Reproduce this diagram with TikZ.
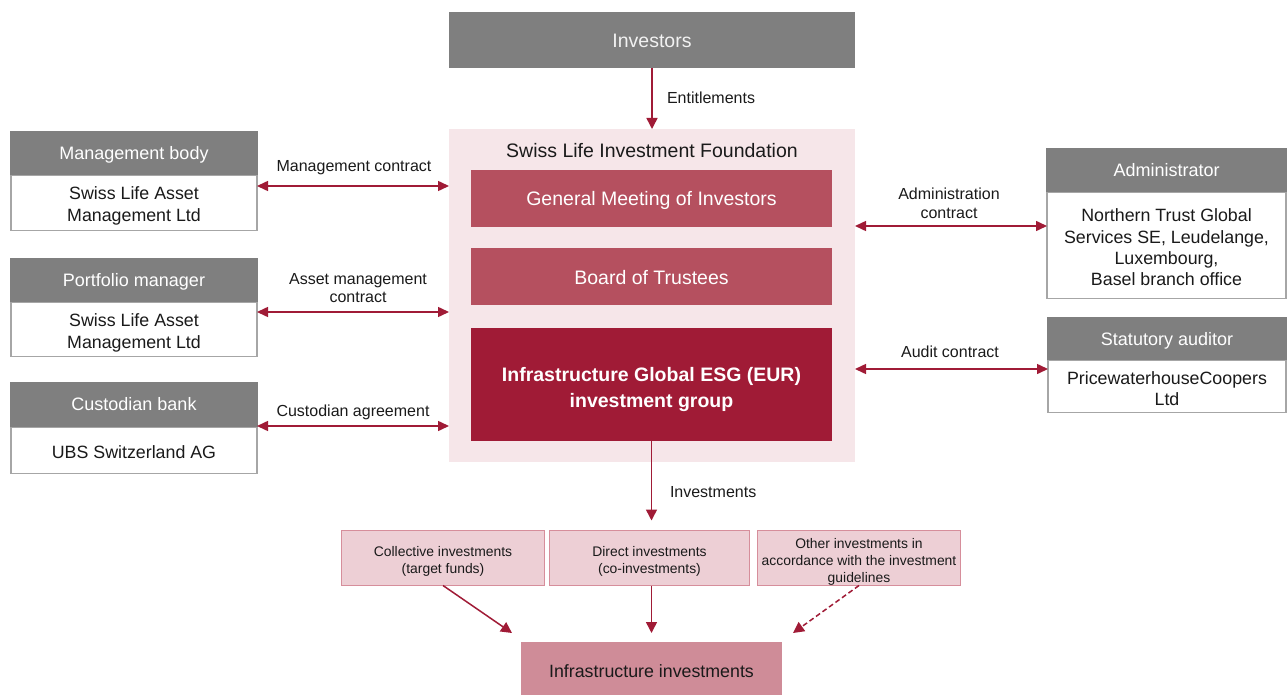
\documentclass[tikz,border=0pt]{standalone}
\usepackage{fontspec}
\setmainfont{Liberation Sans}
\usetikzlibrary{arrows.meta}
\definecolor{hdgray}{HTML}{7F7F7F}
\definecolor{bdgray}{HTML}{A6A6A6}
\definecolor{fpink}{HTML}{F6E6E9}
\definecolor{midred}{HTML}{B5505F}
\definecolor{darkred}{HTML}{A01B36}
\definecolor{bandfill}{HTML}{EDCFD5}
\definecolor{bandline}{HTML}{D68E9B}
\definecolor{infrafill}{HTML}{CF8C98}
\definecolor{txt}{HTML}{1A1A1A}
\tikzset{
  box/.style={inner sep=0pt, outer sep=0pt},
  tx/.style={inner sep=0pt, outer sep=0pt, align=center},
  hdr/.style={box, fill=hdgray},
  hdrt/.style={tx, text=white, font={\fontsize{18}{21}\selectfont}},
  bodybox/.style={box, fill=white, draw=bdgray, line width=1.5pt},
  bodyt/.style={tx, text=txt, font={\fontsize{17.8}{21.8}\selectfont}},
  redbox/.style={box, fill=midred},
  redt/.style={tx, text=white, font={\fontsize{19.5}{23}\selectfont}},
  bandbox/.style={box, fill=bandfill, draw=bandline, line width=1.3pt},
  bandt/.style={tx, text=txt, font={\fontsize{13.9}{17.3}\selectfont}},
  lbl/.style={tx, text=txt, font={\fontsize{16}{18.5}\selectfont}},
  arr/.style={draw=darkred, line width=1.5pt, -{Triangle[length=11pt,width=11pt]}},
  dbl/.style={draw=darkred, line width=1.5pt, {Triangle[length=11pt,width=10pt]}-{Triangle[length=11pt,width=10pt]}},
}
\begin{document}
\begin{tikzpicture}[x=1pt,y=-1pt]
\useasboundingbox (0,0) rectangle (1287,695);
% top
\node[hdr, minimum width=406pt, minimum height=56pt] (inv) at (652,40) {};
\node[tx, text=white!95!black, font={\fontsize{19.5}{23}\selectfont}] (invt) at ([yshift=-1pt]inv.center) {Investors};
\node[box, fill=fpink, minimum width=406pt, minimum height=333pt] (found) at (652,295.5) {};
\node[lbl, font={\fontsize{19.5}{23}\selectfont}] (ftitle) at (652,151) {Swiss Life Investment Foundation};
\node[redbox, minimum width=361pt, minimum height=57pt] (gm) at (651.5,198.5) {};
\node[redt] (gmt) at ([yshift=-2pt]gm.center) {General Meeting of Investors};
\node[redbox, minimum width=361pt, minimum height=57pt] (bot) at (651.5,276.5) {};
\node[redt] (bott) at ([yshift=-1pt]bot.center) {Board of Trustees};
\node[redbox, fill=darkred, minimum width=361pt, minimum height=113pt] (ig) at (651.5,384.5) {};
\node[redt, font={\fontsize{19.5}{26}\selectfont\bfseries}] (igt) at ([yshift=-4.5pt]ig.center) {Infrastructure Global ESG (EUR)\\investment group};
\draw[arr] (inv.south) -- (found.north);
\node[lbl, anchor=west] (entl) at (667,98) {Entitlements};
% left
\node[hdr, minimum width=248pt, minimum height=44pt] (mbh) at (134,153) {};
\node[hdrt] (mbht) at ([yshift=-2pt]mbh.center) {Management body};
\node[bodybox, minimum width=246pt, minimum height=55pt] (mbb) at (134,203) {};
\node[bodyt] (mbbt) at ([yshift=-3pt]mbb.center) {Swiss Life Asset\\Management Ltd};
\node[hdr, minimum width=248pt, minimum height=44pt] (pmh) at (134,280) {};
\node[hdrt] (pmht) at ([yshift=-2pt]pmh.center) {Portfolio manager};
\node[bodybox, minimum width=246pt, minimum height=54pt] (pmb) at (134,329.5) {};
\node[bodyt] (pmbt) at ([yshift=-3pt]pmb.center) {Swiss Life Asset\\Management Ltd};
\node[hdr, minimum width=248pt, minimum height=45pt] (cbh) at (134,404.5) {};
\node[hdrt] (cbht) at (cbh.center) {Custodian bank};
\node[bodybox, minimum width=246pt, minimum height=46pt] (cbb) at (134,450.5) {};
\node[bodyt] (cbbt) at ([yshift=-2pt]cbb.center) {UBS Switzerland AG};
\coordinate (l1) at ([yshift=17pt]mbb.east);
\coordinate (l2) at ([yshift=17.5pt]pmb.east);
\coordinate (l3) at ([yshift=24.5pt]cbb.east);
\draw[dbl] (l1) -- (l1 -| found.west);
\draw[dbl] (l2) -- (l2 -| found.west);
\draw[dbl] (l3) -- (l3 -| found.west);
\node[lbl] (lab1) at (354,167.5) {Management contract};
\node[lbl] (lab2) at (358,288) {Asset management\\contract};
\node[lbl] (lab3) at (353,412) {Custodian agreement};
% right
\node[hdr, minimum width=241pt, minimum height=44pt] (adh) at (1166.5,170) {};
\node[hdrt] (adht) at (adh.center) {Administrator};
\node[bodybox, minimum width=239pt, minimum height=106pt] (adb) at (1166.5,245.5) {};
\node[bodyt, font={\fontsize{17.8}{21.4}\selectfont}] (adbt) at ([yshift=-2pt]adb.center) {Northern Trust Global\\Services SE, Leudelange,\\Luxembourg,\\Basel branch office};
\node[hdr, minimum width=240pt, minimum height=43pt] (sah) at (1167,338.5) {};
\node[hdrt] (saht) at ([yshift=-2pt]sah.center) {Statutory auditor};
\node[bodybox, minimum width=238pt, minimum height=52pt] (sab) at (1167,386.5) {};
\node[bodyt, font={\fontsize{17.8}{21.2}\selectfont}] (sabt) at ([yshift=-2pt]sab.center) {PricewaterhouseCoopers\\Ltd};
\coordinate (r1) at ([yshift=19.5pt]adb.west);
\coordinate (r2) at ([yshift=17.5pt]sab.west);
\draw[dbl] (r1 -| found.east) -- (r1);
\draw[dbl] (r2 -| found.east) -- (r2);
\node[lbl] (lab4) at (949,203.5) {Administration\\contract};
\node[lbl] (lab5) at (950,352) {Audit contract};
% bottom
\node[bandbox, minimum width=203pt, minimum height=55pt] (coll) at (443,558) {};
\node[bandt] (collt) at ([yshift=-3.5pt]coll.center) {Collective investments\\(target funds)};
\node[bandbox, minimum width=200pt, minimum height=55pt] (dir) at (649.5,558) {};
\node[bandt] (dirt) at ([yshift=-3.5pt]dir.center) {Direct investments\\(co-investments)};
\node[bandbox, minimum width=203pt, minimum height=55pt] (oth) at (859,558) {};
\node[bandt, font={\fontsize{13.9}{17}\selectfont}] (otht) at ([yshift=-3.5pt]oth.center) {Other investments in\\accordance with the investment\\guidelines};
\node[box, fill=infrafill, minimum width=261pt, minimum height=53pt] (infra) at (651.5,668.5) {};
\node[tx, text=txt, font={\fontsize{17.8}{21}\selectfont}] (infrat) at ([yshift=-3pt]infra.center) {Infrastructure investments};
\draw[arr] (ig.south) -- ([yshift=10pt]ig.south |- dir.north);
\node[lbl, anchor=west] (invl) at (670,492) {Investments};
\draw[arr] (coll.south) -- ([xshift=-139.5pt,yshift=9pt]infra.north);
\draw[arr] (infra.north |- dir.south) -- ([yshift=9pt]infra.north);
\draw[arr, dashed, dash pattern=on 5pt off 3pt] (oth.south) -- ([xshift=141.5pt,yshift=9pt]infra.north);
\end{tikzpicture}
\end{document}
